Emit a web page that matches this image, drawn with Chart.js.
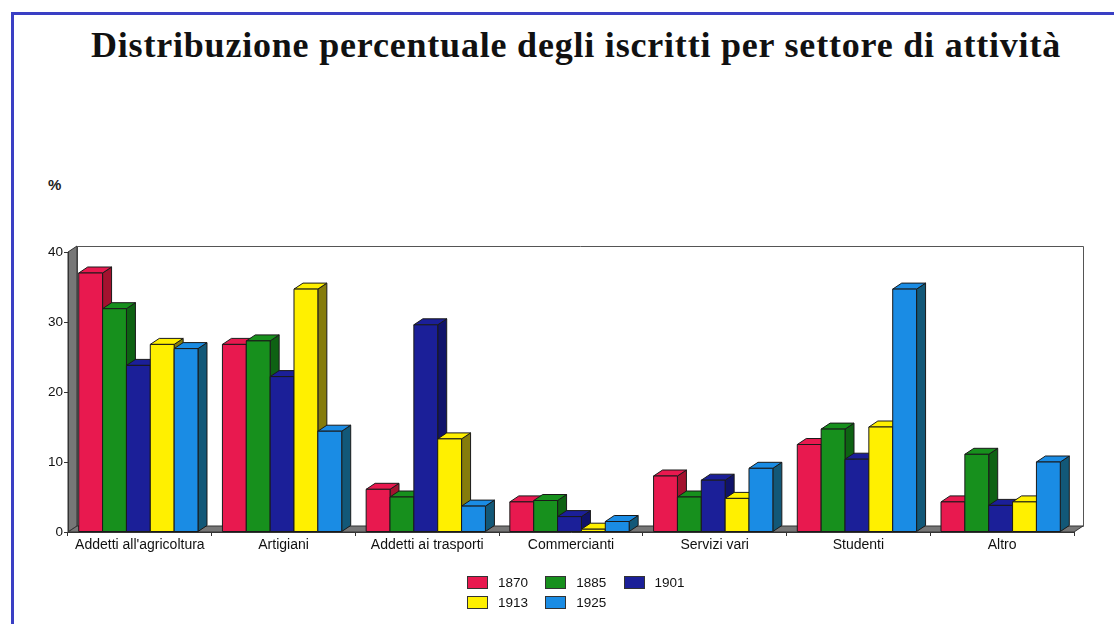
<!DOCTYPE html>
<html>
<head>
<meta charset="utf-8">
<script src="https://cdn.jsdelivr.net/npm/chart.js@4.4.1/dist/chart.umd.min.js"></script>
<style>
  html, body { margin: 0; padding: 0; background: #fff; width: 1114px; height: 624px; overflow: hidden; }
  #frame { position: absolute; left: 11px; top: 12px; width: 1200px; height: 700px;
           border-left: 3px solid #3a3fc4; border-top: 3px solid #3a3fc4; }
  #title { position: absolute; left: 0; width: 1152px; top: 24px; line-height: 38px; text-align: center;
           font: bold 36px "Liberation Serif", "Times New Roman", serif; letter-spacing: 0.8px;
           color: #111; white-space: nowrap; }
  #unit { position: absolute; left: 48px; top: 176px; font: bold 15px "Liberation Sans", Arial, sans-serif; color: #222; }
  #wrap { position: absolute; left: 0; top: 0; width: 1114px; height: 624px; }
  #legend { position: absolute; left: 467px; top: 575px; display: grid;
            grid-template-columns: repeat(3, 78.3px); row-gap: 6px;
            font: 13.5px "Liberation Sans", Arial, sans-serif; color: #111; }
  .item { display: flex; align-items: center; height: 14px; }
  .sw { width: 19px; height: 11px; border: 1px solid #333; margin-right: 10px; box-sizing: content-box; }
</style>
</head>
<body>
<div id="frame"></div>
<div id="title">Distribuzione percentuale degli iscritti per settore di attività</div>
<div id="unit">%</div>
<div id="wrap"><canvas id="chart" width="1114" height="624"></canvas></div>
<div id="legend"></div>
<script>
// Sectors of activity (x categories)
const categories = ["Addetti all'agricoltura", "Artigiani", "Addetti ai trasporti", "Commercianti", "Servizi vari", "Studenti", "Altro"];
// Enrolment years (series)
const years = ['1870', '1885', '1901', '1913', '1925'];
// Percentage of members per sector, one array per year
const v1870 = [37.0, 26.8, 6.1, 4.3, 8.0, 12.5, 4.3];
const v1885 = [31.9, 27.3, 5.0, 4.5, 5.0, 14.7, 11.1];
const v1901 = [23.8, 22.2, 29.6, 2.2, 7.4, 10.4, 3.8];
const v1913 = [26.8, 34.7, 13.3, 0.4, 4.8, 15.0, 4.3];
const v1925 = [26.2, 14.4, 3.7, 1.5, 9.1, 34.7, 10.0];
// Value axis ticks
const yTicks = [0, 10, 20, 30, 40];

const seriesValues = [v1870, v1885, v1901, v1913, v1925];
const frontColors = ['#e8194f', '#17901d', '#1b1f98', '#fff000', '#1a8ce4'];
const sideColors  = ['#a3122f', '#0e6213', '#10136a', '#857c0c', '#125878'];

// depth of the pseudo-3D effect
const DX = 9, DY = -6, SHIFT = -1.5;

function poly(ctx, pts, fill, stroke) {
  ctx.beginPath();
  ctx.moveTo(pts[0][0], pts[0][1]);
  for (let i = 1; i < pts.length; i++) ctx.lineTo(pts[i][0], pts[i][1]);
  ctx.closePath();
  ctx.fillStyle = fill; ctx.fill();
  if (stroke) { ctx.strokeStyle = stroke; ctx.lineWidth = 1; ctx.stroke(); }
}

const bar3d = {
  id: 'bar3d',
  beforeDraw(chart) {
    const { ctx, chartArea: { left, right, top, bottom } } = chart;
    ctx.save();
    // back wall
    ctx.fillStyle = '#fff';
    ctx.strokeStyle = '#555';
    ctx.lineWidth = 1;
    ctx.beginPath();
    ctx.rect(Math.round(left + DX) + 0.5, Math.round(top + DY) + 0.5, right - left, bottom - top);
    ctx.fill(); ctx.stroke();
    // side wall and floor
    poly(ctx, [[left, bottom], [left, top], [left + DX, top + DY], [left + DX, bottom + DY]], '#777', '#333');
    poly(ctx, [[left, bottom], [right, bottom], [right + DX, bottom + DY], [left + DX, bottom + DY]], '#777', '#333');
    ctx.restore();
  },
  beforeDatasetDraw() { return false; },
  afterDatasetsDraw(chart) {
    const ctx = chart.ctx;
    ctx.save();
    ctx.lineJoin = 'round';
    const n = chart.data.labels.length;
    for (let i = 0; i < n; i++) {
      chart.data.datasets.forEach((ds, d) => {
        const el = chart.getDatasetMeta(d).data[i];
        const x0 = el.x - el.width / 2 + SHIFT, x1 = x0 + el.width;
        const y = el.y, b = el.base;
        poly(ctx, [[x1, b], [x1, y], [x1 + DX, y + DY], [x1 + DX, b + DY]], sideColors[d], '#1a1a1a');
        poly(ctx, [[x0, y], [x1, y], [x1 + DX, y + DY], [x0 + DX, y + DY]], frontColors[d], '#1a1a1a');
        poly(ctx, [[x0, y], [x1, y], [x1, b], [x0, b]], frontColors[d], '#1a1a1a');
      });
    }
    ctx.restore();
  }
};

Chart.defaults.font.family = '"Liberation Sans", Arial, sans-serif';
Chart.defaults.font.size = 13.5;
Chart.defaults.color = '#111';

const chart = new Chart(document.getElementById('chart'), {
  type: 'bar',
  data: {
    labels: categories,
    datasets: years.map((y, d) => ({
      label: y,
      data: seriesValues[d],
      backgroundColor: frontColors[d],
      categoryPercentage: 0.83,
      barPercentage: 1.0
    }))
  },
  options: {
    responsive: false,
    animation: false,
    layout: { padding: { left: 38, right: 40, top: 252, bottom: 64 } },
    plugins: { legend: { display: false }, tooltip: { enabled: false } },
    scales: {
      x: {
        grid: { display: true, offset: true, drawOnChartArea: false, tickLength: 4, color: '#333' },
        border: { display: true, color: '#333' },
        ticks: { padding: 1, maxRotation: 0, autoSkip: false, font: { size: 14 } },
        afterFit(s) { s.height = 28; }
      },
      y: {
        min: 0, max: 40,
        afterBuildTicks(s) { s.ticks = yTicks.map(v => ({ value: v })); },
        grid: { display: true, drawOnChartArea: false, tickLength: 4, color: '#333' },
        border: { display: true, color: '#333' },
        ticks: { padding: 1 },
        afterFit(s) { s.width = 30; }
      }
    }
  },
  plugins: [bar3d]
});

// legend built from the chart's datasets
const legend = document.getElementById('legend');
chart.data.datasets.forEach((ds) => {
  const item = document.createElement('div');
  item.className = 'item';
  const sw = document.createElement('span');
  sw.className = 'sw';
  sw.style.background = ds.backgroundColor;
  const t = document.createElement('span');
  t.textContent = ds.label;
  item.appendChild(sw); item.appendChild(t);
  legend.appendChild(item);
});
</script>
</body>
</html>
